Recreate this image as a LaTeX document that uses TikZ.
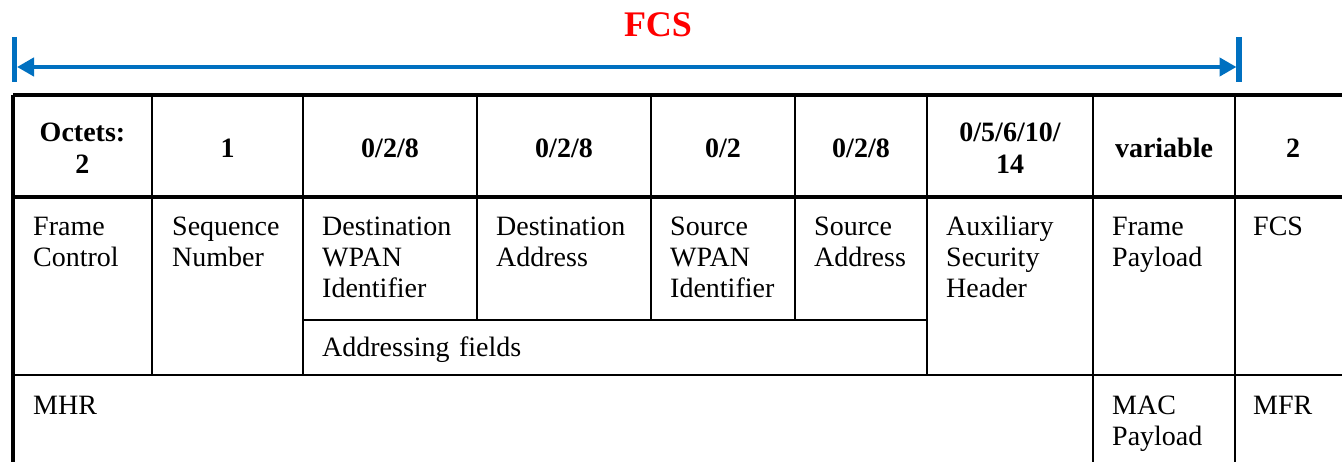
\documentclass[tikz,border=0pt]{standalone}
\usepackage{fontspec}
\setmainfont{Liberation Serif}
\usetikzlibrary{arrows.meta}
\definecolor{arrowblue}{RGB}{0,112,192}
\definecolor{titlered}{RGB}{255,0,0}
\begin{document}
\begin{tikzpicture}[x=1pt,y=1pt,
  border/.style={line width=3.5pt},
  rule/.style={line width=1.8pt},
  hdr/.style={font=\fontsize{28}{32}\selectfont\bfseries, align=center, text width=150pt, anchor=base, inner sep=0pt},
  fld/.style={font=\fontsize{28}{31}\selectfont, align=left, text width=165pt, anchor=base west, inner sep=0pt},
  bar/.style={line width=5.5pt, arrowblue},
  span/.style={line width=4.5pt, arrowblue, {Triangle[length=17pt,width=18pt]}-{Triangle[length=17pt,width=18pt]}}
]
\path[use as bounding box] (0,0) rectangle (1342,462);
\clip (0,0) rectangle (1342,462);

% title and span arrow
\node[font=\fontsize{36}{40}\selectfont\bfseries, text=titlered, anchor=base, inner sep=0pt] (title) at (658,425) {FCS};
\coordinate (LT) at (14.5,425);
\coordinate (LB) at (14.5,380);
\coordinate (RT) at (1239,425);
\coordinate (RB) at (1239,380);
\coordinate (L) at (17,395);
\coordinate (R) at (1236.5,395);
\draw[bar] (LT) -- (LB);
\draw[bar] (RT) -- (RB);
\draw[span] (L) -- (R);

% table rules
\draw[border] (13,367) -- (1350,367);
\draw[border] (13,367) -- (13,-10);
\draw[border] (13,265) -- (1350,265);
\draw[rule] (13,87) -- (1350,87);
\draw[rule] (303,142) -- (927,142);
\draw[rule] (152,367) -- (152,87);
\draw[rule] (303,367) -- (303,87);
\draw[rule] (477,367) -- (477,142);
\draw[rule] (651,367) -- (651,142);
\draw[rule] (795,367) -- (795,142);
\draw[rule] (927,367) -- (927,87);
\draw[rule] (1093,367) -- (1093,-10);
\draw[rule] (1235,367) -- (1235,-10);

% header row
\node[hdr] (h1) at (82.5,320) {Octets:\\2};
\node[hdr] (h2) at (227.5,304) {1};
\node[hdr] (h3) at (390,304) {0/2/8};
\node[hdr] (h4) at (564,304) {0/2/8};
\node[hdr] (h5) at (723,304) {0/2};
\node[hdr] (h6) at (861,304) {0/2/8};
\node[hdr] (h7) at (1010,320) {0/5/6/10/\\14};
\node[hdr] (h8) at (1164,304) {variable};
\node[hdr] (h9) at (1293,304) {2};

% field row
\node[fld] (f1) at (33,226) {Frame\\Control};
\node[fld] (f2) at (172,226) {Sequence\\Number};
\node[fld] (f3) at (322,226) {Destination\\WPAN\\Identifier};
\node[fld] (f4) at (496,226) {Destination\\Address};
\node[fld] (f5) at (670,226) {Source\\WPAN\\Identifier};
\node[fld] (f6) at (814,226) {Source\\Address};
\node[fld] (f7) at (946,226) {Auxiliary\\Security\\Header};
\node[fld] (f8) at (1112,226) {Frame\\Payload};
\node[fld] (f9) at (1253,226) {FCS};
\node[fld, text width=400pt] (addr) at (322,105) {Addressing fields};

% bottom row
\node[fld] (mhr) at (33,47) {MHR};
\node[fld] (mac) at (1112,47) {MAC\\Payload};
\node[fld] (mfr) at (1253,47) {MFR};
\end{tikzpicture}
\end{document}
